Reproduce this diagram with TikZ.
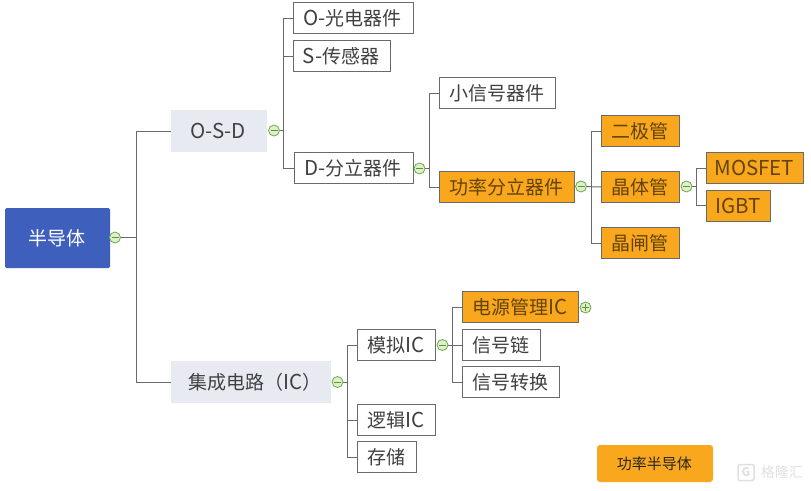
\documentclass[tikz,border=0pt]{standalone}
\usepackage{fontspec}
\setmainfont{Noto Sans CJK SC}
\usepackage{xcolor}
\usetikzlibrary{positioning}
\definecolor{rootblue}{HTML}{3F5FBD}
\definecolor{mainpale}{HTML}{E8EAF2}
\definecolor{hotorange}{HTML}{F9A71C}
\definecolor{linegray}{HTML}{6A6A6A}
\definecolor{dotgreen}{HTML}{DDF0C8}
\definecolor{dotedge}{HTML}{6FA84F}
\newcommand{\lat}[1]{{\fontsize{20.5}{22}\selectfont #1}}

\begin{document}
\begin{tikzpicture}[
    x=1pt, y=-1pt,
    box/.style={rectangle, inner sep=0pt, minimum height=31pt,
                font=\fontsize{19}{22}\selectfont, text=black!75,
                execute at end node=\kern1.5pt},
    subbox/.style={box, draw=linegray, line width=1pt, fill=white},
    hotbox/.style={box, draw=linegray, line width=1pt, fill=hotorange, text=black!60!hotorange},
    mainbox/.style={box, fill=mainpale, minimum height=42pt},
    link/.style={draw=linegray, line width=1pt},
    dot/.style={circle, draw=dotedge, fill=dotgreen, line width=0.8pt, minimum size=11pt, inner sep=0pt},
    minusdot/.style={dot, path picture={\draw[dotedge!85!black, line width=0.8pt]
        ([xshift=2pt]path picture bounding box.west) -- ([xshift=-2pt]path picture bounding box.east);}},
    plusdot/.style={dot, path picture={\draw[dotedge!85!black, line width=0.8pt]
        ([xshift=2pt]path picture bounding box.west) -- ([xshift=-2pt]path picture bounding box.east)
        ([yshift=-2pt]path picture bounding box.north) -- ([yshift=2pt]path picture bounding box.south);}}
]
\useasboundingbox (0,0) rectangle (811,490);

% Root
\node[box, fill=rootblue, rounded corners=1.5pt, text=white, minimum width=105pt, minimum height=60pt] (root) at (57.5,238) {半导体};

% First level
\node[mainbox, minimum width=96pt] (osd) at (219,131) {\lat{O-S-D}};
\node[mainbox, minimum width=160pt] (ic) at (251,382) {\kern10pt 集成电路（\lat{IC}）};

% O-S-D branch
\node[subbox, minimum width=120pt] (opto) at (353.5,18) {\lat{O-}光电器件};
\node[subbox, minimum width=97pt] (sensor) at (342,56) {\lat{S-}传感器};
\node[subbox, minimum width=119pt] (discrete) at (353.5,168) {\lat{D-}分立器件};

% Discrete branch
\node[subbox, minimum width=116pt] (small) at (497.5,93) {小信号器件};
\node[hotbox, minimum width=135pt] (power) at (507,187) {功率分立器件};
\node[hotbox, minimum width=78pt] (diode) at (640.5,131) {二极管};
\node[hotbox, minimum width=78pt] (trans) at (640.5,187) {晶体管};
\node[hotbox, minimum width=78pt] (thyr) at (640.5,243) {晶闸管};
\node[hotbox, minimum width=97pt] (mosfet) at (755,168) {\lat{MOSFET}};
\node[hotbox, minimum width=64pt] (igbt) at (738.5,205.5) {\lat{IGBT}};

% IC branch
\node[subbox, minimum width=78pt] (analog) at (396.5,345) {模拟\lat{IC}};
\node[subbox, minimum width=78pt] (logic) at (396.5,420) {逻辑\lat{IC}};
\node[subbox, minimum width=59pt] (memory) at (387,457) {存储};
\node[hotbox, minimum width=116pt] (pmic) at (520.5,307) {电源管理\lat{IC}};
\node[subbox, minimum width=78pt] (chain) at (501.5,345) {信号链};
\node[subbox, minimum width=97pt] (conv) at (511,382) {信号转换};

% Fork points
\coordinate (rootfork) at (115,237.5);
\coordinate (osdfork) at (274,130.5);
\coordinate (icfork) at (337.5,382);
\coordinate (discfork) at (419.5,168.5);
\coordinate (powerfork) at (581,186.5);
\coordinate (transfork) at (686.5,186.5);
\coordinate (analogfork) at (442.5,345);

% Connectors
\draw[link] (rootfork) -- ++(21.5,0) |- (osd.west);
\draw[link] (rootfork) -- ++(21.5,0) |- (ic.west);
\draw[link] (osdfork) -- ++(9,0) |- (opto.west);
\draw[link] (osdfork) -- ++(9,0) |- (sensor.west);
\draw[link] (osdfork) -- ++(9,0) |- (discrete.west);
\draw[link] (discfork) -- ++(9.5,0) |- (small.west);
\draw[link] (discfork) -- ++(9.5,0) |- (power.west);
\draw[link] (powerfork) -- ++(10,0) |- (diode.west);
\draw[link] (powerfork) -- (trans.west);
\draw[link] (powerfork) -- ++(10,0) |- (thyr.west);
\draw[link] (transfork) -- ++(9.5,0) |- (mosfet.west);
\draw[link] (transfork) -- ++(9.5,0) |- (igbt.west);
\draw[link] (icfork) -- ++(9.5,0) |- (analog.west);
\draw[link] (icfork) -- ++(9.5,0) |- (logic.west);
\draw[link] (icfork) -- ++(9.5,0) |- (memory.west);
\draw[link] (analogfork) -- ++(9.5,0) |- (pmic.west);
\draw[link] (analogfork) -- (chain.west);
\draw[link] (analogfork) -- ++(9.5,0) |- (conv.west);

% Collapse marks
\node[minusdot] (rootmark) at (rootfork) {};
\node[minusdot] (osdmark) at (osdfork) {};
\node[minusdot] (icmark) at (icfork) {};
\node[minusdot] (discmark) at (discfork) {};
\node[minusdot] (powermark) at (powerfork) {};
\node[minusdot] (transmark) at (transfork) {};
\node[minusdot] (analogmark) at (analogfork) {};
\node[plusdot] (pmicmark) at (585.5,307.5) {};

% Legend
\node[box, fill=hotorange, rounded corners=3pt, minimum width=116pt, minimum height=37pt,
      font=\fontsize{15}{18}\selectfont, text=black!85] (legend) at (655,463.5) {功率半导体};

% Watermark
\node[draw=black!12, line width=1.5pt, rounded corners=2pt, minimum size=16pt, inner sep=0pt,
      font=\fontsize{12}{12}\selectfont\bfseries, text=black!12] (wmlogo) at (746,472.5) {G};
\node[right=6pt of wmlogo, inner sep=0pt, font=\fontsize{14}{16}\selectfont, text=black!12] (wmtext) {格隆汇};

\end{tikzpicture}
\end{document}
